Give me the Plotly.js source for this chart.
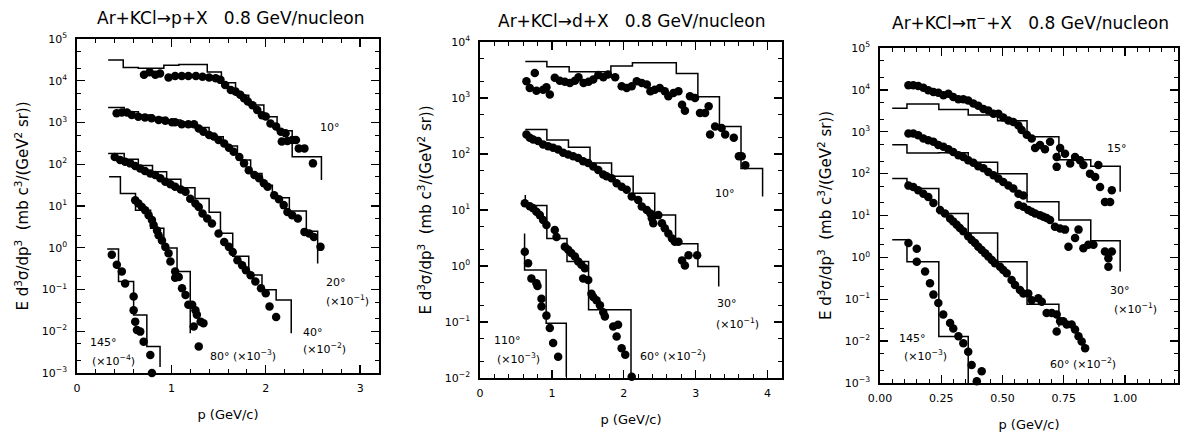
<!DOCTYPE html>
<html><head><meta charset="utf-8">
<script src="https://cdn.plot.ly/plotly-3.0.1.min.js"></script>
<style>html,body{margin:0;padding:0;background:#fff;} #chart{width:1182px;height:439px;}</style>
</head><body><div id="chart"></div>
<script>
// ---------- Panel 1: Ar+KCl -> p + X ----------
const p10x = [0.71,0.77,0.83,0.88,0.97,1.04,1.11,1.18,1.26,1.33,1.40,1.47,1.52,1.57,1.63,1.68,1.73,1.77,1.81,1.86,1.91,1.96,2.00,2.05,2.11,2.16,2.21,2.17,2.23,2.28,2.32,2.35,2.41,2.50];
const p10y = [1.4e4,1.6e4,1.4e4,1.5e4,1.2e4,1.3e4,1.3e4,1.3e4,1.3e4,1.25e4,1.2e4,1.15e4,1.05e4,7.9e3,6.0e3,5.5e3,4.6e3,3.8e3,3.2e3,2.6e3,2.0e3,1.5e3,1.4e3,950,800,600,550,350,360,380,380,240,240,105];
const p20x = [0.42,0.475,0.53,0.58,0.65,0.72,0.79,0.865,0.936,1.007,1.04,1.11,1.18,1.24,1.29,1.34,1.40,1.45,1.50,1.56,1.61,1.66,1.72,1.77,1.82,1.88,1.93,1.98,2.02,2.09,2.14,2.19,2.23,2.28,2.34,2.41,2.46,2.51,2.58];
const p20y = [1660,1740,1740,1510,1380,1320,1260,1150,1100,1020,1020,910,910,910,720,600,500,460,380,316,250,200,150,105,72,55,46,35,29,18,14.5,10.5,7.2,6.0,5.0,2.4,2.2,1.8,1.05];
const p40x = [0.40,0.457,0.51,0.564,0.617,0.67,0.72,0.777,0.83,0.883,0.936,0.99,1.04,1.10,1.15,1.20,1.255,1.29,1.33,1.38,1.43,1.50,1.56,1.61,1.65,1.70,1.75,1.79,1.84,1.89,1.95,2.00,2.04,2.11];
const p40y = [150,126,115,105,91,79,69,60,55,46,38,33,29,25,22,15,11.5,9.5,6.6,5.0,3.8,2.2,1.38,1.05,0.79,0.50,0.38,0.29,0.22,0.155,0.107,0.081,0.039,0.022];
const p80x = [0.617,0.652,0.688,0.723,0.759,0.794,0.812,0.848,0.865,0.90,0.936,0.97,0.99,1.04,1.04,1.078,1.113,1.15,1.18,1.22,1.255,1.27,1.31,1.34,1.237,1.29];
const p80y = [13.8,11.5,9.5,7.9,6.0,4.6,3.5,2.6,2.0,1.5,1.05,0.74,0.47,0.27,0.19,0.20,0.107,0.074,0.043,0.043,0.032,0.025,0.017,0.0155,0.013,0.0043];
const p145x = [0.369,0.422,0.475,0.51,0.60,0.60,0.617,0.635,0.67,0.706,0.777,0.794];
const p145y = [0.68,0.39,0.27,0.14,0.068,0.032,0.017,0.0107,0.0098,0.0056,0.0027,0.001];
// model histograms: bin edges, bin heights, value at the final drop
const hp10E = [0.33,0.49,0.65,0.92,1.08,1.38,1.53,1.68,1.82,1.98,2.12,2.28,2.59];
const hp10V = [31600,20900,20000,23400,24500,16200,8900,4470,2630,1380,631,151];
const hp10End = 42;
const hp20E = [0.33,0.50,0.65,0.80,0.95,1.10,1.25,1.40,1.55,1.70,1.84,1.96,2.07,2.25,2.43,2.55];
const hp20V = [2290,1820,1510,1320,1150,1000,760,457,275,126,60,31.6,15.8,7.6,2.5];
const hp20End = 0.42;
const hp40E = [0.33,0.50,0.65,0.80,0.95,1.10,1.25,1.40,1.52,1.65,1.82,1.96,2.11,2.27];
const hp40V = [182,132,93,66,43.7,27.5,15.1,7.1,2.24,0.63,0.224,0.098,0.056];
const hp40End = 0.0089;
const hp80E = [0.34,0.46,0.62,0.78,0.92,1.06,1.20];
const hp80V = [50,20,7.9,2.95,0.98,0.27];
const hp80End = 0.0089;
const hp145E = [0.32,0.44,0.60,0.74,0.88];
const hp145V = [0.93,0.155,0.0245,0.0043];
const hp145End = 0.0014;

// ---------- Panel 2: Ar+KCl -> d + X ----------
const d10x = [0.646,0.692,0.762,0.785,0.878,0.924,0.971,1.04,1.11,1.18,1.25,1.32,1.37,1.44,1.51,1.575,1.645,1.715,1.78,1.88,1.97,2.04,2.11,2.18,2.25,2.32,2.37,2.43,2.50,2.57,2.62,2.69,2.76,2.81,2.85,2.92,2.99,3.06,3.13,3.18,3.20,3.27,3.36,3.41,3.53,3.60,3.64,3.69];
const d10y = [2000,1510,2800,1350,1410,1550,1150,2290,2040,1950,1860,2040,2340,1860,1950,2140,2570,2340,2630,2340,1620,1510,1620,2000,1860,1740,1320,1410,1510,1320,1070,1230,1320,760,590,1070,1000,540,540,710,224,310,290,224,195,91,91,63];
const d30x = [0.646,0.692,0.739,0.808,0.878,0.948,1.017,1.087,1.157,1.226,1.296,1.366,1.435,1.505,1.575,1.645,1.714,1.76,1.83,1.90,1.97,2.04,2.11,2.20,2.25,2.32,2.37,2.39,2.48,2.41,2.53,2.57,2.62,2.67,2.71,2.76,2.81,2.85,2.90,3.02];
const d30y = [224,195,182,170,148,138,129,120,105,98,91,85,74,69,60,52,43,40,37,30,26,23,17.4,15.1,11.5,10,8.7,7.1,8.1,5.8,5.8,4.7,3.8,3.1,2.7,2.7,1.26,1.02,1.55,1.55];
const d60x = [0.623,0.692,0.739,0.785,0.832,0.878,0.924,1.04,1.064,1.18,1.226,1.27,1.32,1.366,1.41,1.459,1.435,1.505,1.55,1.575,1.62,1.668,1.714,1.737,1.853,1.92,1.90,1.97,2.02,2.11];
const d60y = [13.2,11.7,10.7,9.3,8.1,6.6,5.4,4.4,3.3,2.2,1.95,1.7,1.48,1.2,1.05,0.91,0.60,0.56,0.32,0.28,0.245,0.20,0.15,0.126,0.083,0.089,0.055,0.034,0.026,0.0105];
const d110x = [0.623,0.669,0.715,0.785,0.80,0.855,0.855,0.924,0.971,1.017,1.087];
const d110y = [1.8,1.12,0.60,0.49,0.44,0.26,0.19,0.13,0.078,0.042,0.024];
const hd10E = [0.63,0.93,1.24,1.82,2.12,2.73,3.03,3.33,3.63,3.93];
const hd10V = [4470,3630,2950,3720,4270,2750,1050,310,55];
const hd10End = 17.4;
const hd30E = [0.63,0.93,1.23,1.53,1.83,2.13,2.43,2.72,3.03,3.32];
const hd30V = [275,178,132,69,40,20,8.1,2.5,0.98];
const hd30End = 0.43;
const hd60E = [0.63,0.63,0.93,1.21,1.51,2.10];
const hd60V = [18.6,12.0,3.1,1.2,0.166];
const hd60End = 0.0105;
const hd110E = [0.62,0.62,0.92,1.20];
const hd110V = [3.8,0.85,0.095];
const hd110End = 0.0105;

// ---------- Panel 3: Ar+KCl -> pi- + X ----------
const pi15x = [0.116,0.136,0.156,0.177,0.197,0.218,0.238,0.259,0.279,0.299,0.32,0.34,0.36,0.381,0.401,0.422,0.442,0.463,0.483,0.503,0.524,0.544,0.565,0.578,0.599,0.619,0.633,0.653,0.673,0.694,0.721,0.735,0.755,0.721,0.776,0.796,0.816,0.830,0.857,0.878,0.898,0.891,0.918,0.939,0.946];
const pi15y = [1.29e4,1.29e4,1.23e4,1.12e4,9.8e3,8.9e3,8.5e3,7.4e3,8.1e3,6.8e3,6.0e3,6.0e3,5.6e3,4.7e3,4.2e3,3.5e3,3.2e3,2.7e3,2.7e3,2.2e3,1.86e3,1.7e3,1.41e3,1.1e3,850,690,410,480,380,575,250,410,300,145,175,250,210,160,100,83,48,160,21,21,40];
const pi30x = [0.116,0.136,0.156,0.177,0.197,0.218,0.238,0.259,0.279,0.299,0.32,0.34,0.36,0.381,0.401,0.422,0.442,0.463,0.483,0.503,0.524,0.544,0.565,0.585,0.565,0.585,0.605,0.619,0.633,0.653,0.667,0.680,0.694,0.714,0.735,0.755,0.769,0.796,0.810,0.830,0.850,0.871,0.918,0.932,0.946,0.932];
const pi30y = [910,910,830,690,630,575,480,440,380,330,275,250,210,182,151,135,110,91,76,63,52,44,33,30,17.8,16.2,13.5,12.3,11.2,10.2,9.3,8.7,7.8,5.4,4.9,4.6,1.8,2.9,4.6,1.66,2.0,2.0,1.38,0.95,1.38,0.60];
const pi60x = [0.116,0.136,0.156,0.177,0.197,0.218,0.245,0.265,0.286,0.299,0.313,0.326,0.340,0.360,0.374,0.388,0.401,0.415,0.429,0.442,0.456,0.469,0.490,0.503,0.517,0.537,0.551,0.571,0.585,0.605,0.619,0.646,0.660,0.680,0.701,0.721,0.735,0.721,0.748,0.762,0.782,0.796,0.810,0.823,0.837];
const pi60y = [52,48,40,33,27.5,20,13.5,11.2,8.5,7.2,6.0,5.0,4.2,3.2,2.6,2.2,1.8,1.5,1.26,1.05,0.87,0.72,0.60,0.50,0.42,0.29,0.22,0.166,0.138,0.138,0.095,0.105,0.087,0.047,0.047,0.043,0.030,0.017,0.030,0.025,0.025,0.019,0.013,0.0098,0.0068];
const pi145x = [0.116,0.150,0.150,0.184,0.204,0.218,0.238,0.258,0.286,0.299,0.320,0.340,0.360,0.374,0.415,0.395];
const pi145y = [2.2,1.6,0.79,0.46,0.24,0.129,0.081,0.043,0.027,0.020,0.013,0.0089,0.0056,0.0027,0.0019,0.0011];
const hpi15E = [0.05,0.11,0.24,0.36,0.48,0.60,0.73,0.86,0.98];
const hpi15V = [3630,4570,3390,2510,1820,760,214,150];
const hpi15End = 37;
const hpi30E = [0.05,0.11,0.24,0.36,0.48,0.60,0.73,0.86,0.98];
const hpi30V = [490,310,316,186,100,21.4,7.8,2.5];
const hpi30End = 0.46;
const hpi60E = [0.05,0.11,0.24,0.36,0.48,0.60,0.73];
const hpi60V = [76,44,11.2,3.8,0.79,0.076];
const hpi60End = 0.022;
const hpi145E = [0.05,0.11,0.24,0.36];
const hpi145V = [2.63,0.79,0.0129];
const hpi145End = 0.001;

// tick labels
const yTicks8 = [1e-3,1e-2,1e-1,1,10,100,1e3,1e4,1e5];
const yTicks8Text = ['10<sup>−3</sup>','10<sup>−2</sup>','10<sup>−1</sup>','10<sup>0</sup>','10<sup>1</sup>','10<sup>2</sup>','10<sup>3</sup>','10<sup>4</sup>','10<sup>5</sup>'];
const yTicks6 = [1e-2,1e-1,1,10,100,1e3,1e4];
const yTicks6Text = ['10<sup>−2</sup>','10<sup>−1</sup>','10<sup>0</sup>','10<sup>1</sup>','10<sup>2</sup>','10<sup>3</sup>','10<sup>4</sup>'];
const x1Ticks = [0,1,2,3], x1Text = ['0','1','2','3'];
const x2Ticks = [0,1,2,3,4], x2Text = ['0','1','2','3','4'];
const x3Ticks = [0,0.25,0.5,0.75,1.0], x3Text = ['0.00','0.25','0.50','0.75','1.00'];

// ---------- drawing ----------
const W = 1182, H = 439;
const FONT = 'DejaVu Sans, sans-serif';
function hist(edges, heights, end) {
  return {x: edges.concat([edges[edges.length-1]]), y: heights.concat([heights[heights.length-1], end])};
}
function pts(x, y, xa, ya) {
  return {type:'scatter', mode:'markers', x:x, y:y, xaxis:xa, yaxis:ya, cliponaxis:false,
          marker:{color:'black', size:8.5, line:{width:0}}, showlegend:false, hoverinfo:'skip'};
}
function steps(e, v, end, xa, ya) {
  const h = hist(e, v, end);
  return {type:'scatter', mode:'lines', x:h.x, y:h.y, xaxis:xa, yaxis:ya,
          line:{color:'black', width:1.5, shape:'hv'}, showlegend:false, hoverinfo:'skip'};
}
function minorLog(lo, hi) {
  const out = [];
  for (let e = lo; e < hi; e++) { out.push(2*Math.pow(10,e)); out.push(5*Math.pow(10,e)); }
  return out;
}
function xAxis(px0, px1, range, tv, tt, mdt, anchor) {
  return {domain:[px0/W, px1/W], range:range, anchor:anchor, tickmode:'array', tickvals:tv, ticktext:tt,
    ticks:'inside', ticklen:8, tickwidth:1.3, tickcolor:'black', mirror:'allticks', showline:true,
    linecolor:'black', linewidth:1.6, showgrid:false, zeroline:false,
    minor:{tickmode:'linear', tick0:0, dtick:mdt, ticks:'inside', ticklen:4, tickwidth:1, tickcolor:'black', showgrid:false},
    tickfont:{family:FONT, size:11, color:'black'}, ticklabelstandoff:4,
    title:{text:'p (GeV/c)', font:{family:FONT, size:13, color:'black'}, standoff:16},
    automargin:false, fixedrange:true};
}
function yAxis(py0, py1, lo, hi, tv, tt, anchor) {
  return {domain:[1-py1/H, 1-py0/H], type:'log', range:[lo,hi], anchor:anchor, tickmode:'array', tickvals:tv, ticktext:tt,
    ticks:'inside', ticklen:8, tickwidth:1.3, tickcolor:'black', mirror:'allticks', showline:true,
    linecolor:'black', linewidth:1.6, showgrid:false, zeroline:false,
    minor:{tickmode:'array', tickvals:minorLog(lo,hi), ticks:'inside', ticklen:4, tickwidth:1, tickcolor:'black', showgrid:false},
    tickfont:{family:FONT, size:11, color:'black'}, ticklabelstandoff:6,
    title:{text:'E d<sup>3</sup>σ/dp<sup>3</sup>\u00a0\u00a0(mb c<sup>3</sup>/(GeV<sup>2</sup> sr))', font:{family:FONT, size:15, color:'black'}, standoff:9},
    automargin:false, fixedrange:true};
}
function lab(text, px, py, size) {
  return {text:text, x:px/W, y:1-py/H, xref:'paper', yref:'paper', showarrow:false,
          xanchor:'center', yanchor:'middle', font:{family:FONT, size:size||11, color:'black'}};
}

const traces = [
  steps(hp10E,hp10V,hp10End,'x','y'), steps(hp20E,hp20V,hp20End,'x','y'), steps(hp40E,hp40V,hp40End,'x','y'),
  steps(hp80E,hp80V,hp80End,'x','y'), steps(hp145E,hp145V,hp145End,'x','y'),
  pts(p10x,p10y,'x','y'), pts(p20x,p20y,'x','y'), pts(p40x,p40y,'x','y'), pts(p80x,p80y,'x','y'), pts(p145x,p145y,'x','y'),
  steps(hd10E,hd10V,hd10End,'x2','y2'), steps(hd30E,hd30V,hd30End,'x2','y2'), steps(hd60E,hd60V,hd60End,'x2','y2'),
  steps(hd110E,hd110V,hd110End,'x2','y2'),
  pts(d10x,d10y,'x2','y2'), pts(d30x,d30y,'x2','y2'), pts(d60x,d60y,'x2','y2'), pts(d110x,d110y,'x2','y2'),
  steps(hpi15E,hpi15V,hpi15End,'x3','y3'), steps(hpi30E,hpi30V,hpi30End,'x3','y3'), steps(hpi60E,hpi60V,hpi60End,'x3','y3'),
  steps(hpi145E,hpi145V,hpi145End,'x3','y3'),
  pts(pi15x,pi15y,'x3','y3'), pts(pi30x,pi30y,'x3','y3'), pts(pi60x,pi60y,'x3','y3'), pts(pi145x,pi145y,'x3','y3')
];

const layout = {
  width:W, height:H, margin:{l:0,r:0,t:0,b:0}, paper_bgcolor:'white', plot_bgcolor:'white', showlegend:false,
  xaxis: xAxis(77, 379, [0,3.2], x1Ticks, x1Text, 0.2, 'y'),
  yaxis: yAxis(39, 373, -3, 5, yTicks8, yTicks8Text, 'x'),
  xaxis2: xAxis(480, 782, [0,4.2], x2Ticks, x2Text, 0.2, 'y2'),
  yaxis2: yAxis(42, 378, -2, 4, yTicks6, yTicks6Text, 'x2'),
  xaxis3: xAxis(880, 1178, [0,1.216], x3Ticks, x3Text, 0.05, 'y3'),
  yaxis3: yAxis(48, 383, -3, 5, yTicks8, yTicks8Text, 'x3'),
  annotations: [
    lab('Ar+KCl→p+X\u00a0\u00a0 0.8 GeV/nucleon', 231, 18, 17),
    lab('Ar+KCl→d+X\u00a0\u00a0 0.8 GeV/nucleon', 632, 21, 17),
    lab('Ar+KCl→π<sup>−</sup>+X\u00a0\u00a0 0.8 GeV/nucleon', 1030, 22, 17),
    lab('10°', 330, 128), lab('20°', 336, 282), lab('(×10<sup>−1</sup>)', 347, 300),
    lab('40°', 313, 332), lab('(×10<sup>−2</sup>)', 325, 348), lab('80° (×10<sup>−3</sup>)', 243, 355),
    lab('145°', 103, 342), lab('(×10<sup>−4</sup>)', 113, 360),
    lab('10°', 725, 193), lab('30°', 727, 303), lab('(×10<sup>−1</sup>)', 737, 323),
    lab('60° (×10<sup>−2</sup>)', 673, 355), lab('110°', 507, 340), lab('(×10<sup>−3</sup>)', 518, 358),
    lab('15°', 1117, 148), lab('30°', 1120, 290), lab('(×10<sup>−1</sup>)', 1135, 308),
    lab('60° (×10<sup>−2</sup>)', 1083, 363), lab('145°', 912, 338), lab('(×10<sup>−3</sup>)', 925, 355)
  ]
};
Plotly.newPlot('chart', traces, layout, {displayModeBar:false, staticPlot:true});
</script></body></html>
